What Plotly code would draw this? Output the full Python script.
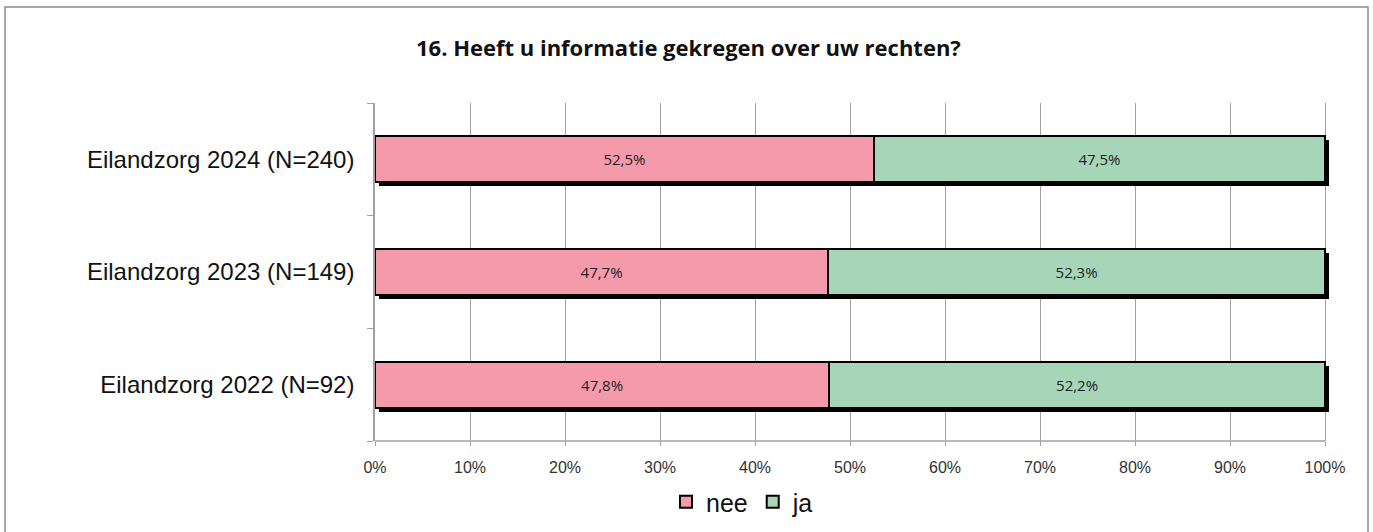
import plotly.graph_objects as go

categories = ["Eilandzorg 2024 (N=240)", "Eilandzorg 2023 (N=149)", "Eilandzorg 2022 (N=92)"]
nee = [52.5, 47.7, 47.8]
ja = [47.5, 52.3, 52.2]
x_ticks = list(range(0, 101, 10))
x_tick_labels = [f"{v}%" for v in x_ticks]

PINK = "#F49AAB"
GREEN = "#A6D5B8"

def fmt(v):
    return f"{v:.1f}".replace(".", ",") + "%"

W, H = 1373, 532
L, R100, T, B = 375, 1325, 103, 441
R = 1330  # plot area extends a bit past 100% so the shadow is visible
pw, ph = R - L, B - T
XMAX = 100 * pw / (R100 - L)
BW = 0.41

fig = go.Figure()

# invisible anchor trace on base axes (so category ticks register)
fig.add_trace(go.Scatter(y=categories, x=[0] * len(categories), mode="markers",
                         marker=dict(opacity=0), showlegend=False, hoverinfo="skip"))

# shadow (offset axes)
totals = [a + b for a, b in zip(nee, ja)]
fig.add_trace(go.Bar(
    y=categories, x=totals, orientation="h", xaxis="x2", yaxis="y2",
    marker=dict(color="black", line=dict(width=0)), width=BW,
    showlegend=False, hoverinfo="skip"))

fig.add_trace(go.Bar(
    y=categories, x=nee, name="nee", orientation="h", xaxis="x3", yaxis="y3",
    marker=dict(color=PINK, line=dict(color="black", width=2)),
    width=BW, text=[fmt(v) for v in nee], textposition="inside",
    insidetextanchor="middle",
    textfont=dict(family="Open Sans", size=15, color="#222")))
fig.add_trace(go.Bar(
    y=categories, x=ja, name="ja", orientation="h", xaxis="x3", yaxis="y3",
    marker=dict(color=GREEN, line=dict(color="black", width=2)),
    width=BW, text=[fmt(v) for v in ja], textposition="inside",
    insidetextanchor="middle",
    textfont=dict(family="Open Sans", size=15, color="#222")))

dx = 3.5 / pw * XMAX
dy = 4 / ph * 3
cat_rev = categories[::-1]

fig.update_layout(
    width=W, height=H,
    margin=dict(l=L, r=W - R, t=T, b=H - B, autoexpand=False),
    barmode="stack",
    plot_bgcolor="white", paper_bgcolor="white",
    font=dict(family="Liberation Sans", color="#222"),
    xaxis=dict(range=[0, XMAX], tickvals=x_ticks, ticktext=x_tick_labels,
               showgrid=True, gridcolor="#A0A0A0", gridwidth=1,
               showline=False,
               ticks="outside", ticklen=4, tickcolor="#A0A0A0",
               ticklabelstandoff=8,
               tickfont=dict(family="Liberation Sans", size=16, color="#333"),
               zeroline=False, fixedrange=True),
    yaxis=dict(type="category", categoryorder="array", categoryarray=cat_rev,
               range=[-0.5, 2.5], showline=True, linecolor="#A0A0A0", linewidth=1.5,
               ticks="outside", tickson="boundaries", ticklen=6, tickcolor="#A0A0A0",
               tickfont=dict(family="Liberation Sans", size=24, color="#111"),
               ticklabelstandoff=14, showgrid=False),
    xaxis2=dict(range=[-dx, XMAX - dx], overlaying="x", visible=False),
    yaxis2=dict(type="category", categoryorder="array", categoryarray=cat_rev,
                range=[-0.5 + dy, 2.5 + dy], overlaying="y", visible=False),
    xaxis3=dict(range=[0, XMAX], overlaying="x", visible=False),
    yaxis3=dict(type="category", categoryorder="array", categoryarray=cat_rev,
                range=[-0.5, 2.5], overlaying="y", visible=False),
    legend=dict(orientation="h", xref="container", yref="container",
                x=666 / W, y=(H - 502) / H,
                xanchor="left", yanchor="middle",
                font=dict(family="Liberation Sans", size=25, color="#111"),
                itemwidth=30, traceorder="normal"),
    annotations=[dict(text="<b>16. Heeft u informatie gekregen over uw rechten?</b>",
                      xref="paper", yref="paper", x=(688 - L) / pw, y=(B - 47) / ph,
                      xanchor="center", yanchor="middle", showarrow=False,
                      font=dict(family="Open Sans", size=22, color="#111"))],
    shapes=[
        dict(type="rect", xref="paper", yref="paper",
             x0=(5 - L) / pw, x1=(1368 - L) / pw,
             y0=(B - 560) / ph, y1=(B - 7) / ph,
             line=dict(color="#8C8C8C", width=1.5), layer="below"),
        # x axis line, from 0% to 100%
        dict(type="line", xref="x", yref="paper",
             x0=x_ticks[0], x1=x_ticks[-1], y0=0, y1=0,
             line=dict(color="#A0A0A0", width=1.5), layer="above"),
    ],
    showlegend=True,
)

fig.write_html("out.html", config={"displayModeBar": False},
               post_script="document.body.style.margin='0';document.body.style.overflow='hidden';")
